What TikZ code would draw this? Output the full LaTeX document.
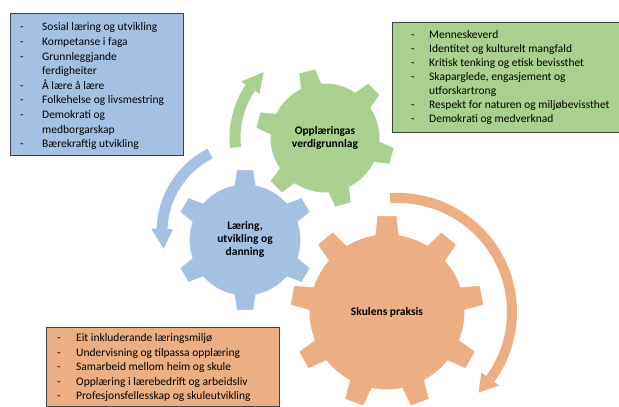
\documentclass[tikz,border=0pt]{standalone}
\usepackage{fontspec}
\setmainfont{Carlito}
\usepackage{array}
\definecolor{gblue}{RGB}{164,193,228}
\definecolor{ggreen}{RGB}{169,208,142}
\definecolor{gorange}{RGB}{236,175,131}
\definecolor{boxline}{RGB}{64,64,64}
\tikzset{
  listbox/.style={draw=boxline, line width=0.8pt},
  listtext/.style={inner sep=0pt, text=black},
  gearlabel/.style={inner sep=0pt, align=center, text=black,
    font=\bfseries\fontsize{11.5}{13}\selectfont},
}
\newcommand\drawgear[9]{%
  \pgfmathsetmacro\gdb{asin(#7/#5)}%
  \pgfmathsetmacro\gdt{asin(#8/#6)}%
  \pgfmathsetmacro\gstep{360/#3}%
  \fill[#9, draw=white, line width=1pt, shift={(#1,#2)}] ({#4-\gdb}:#5pt)
    \foreach \k in {1,...,#3}{
      -- ({#4+(\k-1)*\gstep-\gdb}:#5pt) -- ({#4+(\k-1)*\gstep-\gdt}:#6pt)
      -- ({#4+(\k-1)*\gstep+\gdt}:#6pt) -- ({#4+(\k-1)*\gstep+\gdb}:#5pt)
      arc[start angle={#4+(\k-1)*\gstep+\gdb}, end angle={#4+\k*\gstep-\gdb}, radius=#5pt]
    } -- cycle;}
\begin{document}
\begin{tikzpicture}[x=1pt,y=1pt]
\useasboundingbox (0,0) rectangle (619,407);
\clip (0,0) rectangle (619,407);

% gears
\drawgear{325}{269}{6}{45}{55}{70}{11}{8.5}{ggreen}
\drawgear{245}{167}{6}{90}{56}{71}{11}{8.5}{gblue}
\drawgear{387}{95}{9}{90}{78}{97}{12}{10}{gorange}

% circular arrows
\begin{scope}[shift={(325,269)}]
\fill[ggreen] (186:95.5pt) arc[start angle=186,end angle=146,radius=95.5pt]
  -- (146:101pt) -- (133:90pt) -- (146:79pt) -- (146:84.5pt)
  arc[start angle=146,end angle=186,radius=84.5pt] -- cycle;
\end{scope}
\begin{scope}[shift={(250,175)}]
\fill[gblue] (117:93.5pt) arc[start angle=117,end angle=178,radius=93.5pt]
  -- (178:99pt) -- (191:88pt) -- (178:77pt) -- (178:82.5pt)
  arc[start angle=178,end angle=117,radius=82.5pt] -- cycle;
\end{scope}
\begin{scope}[shift={(398,95)}]
\fill[gorange] (94:119pt) arc[start angle=94,end angle=-36,radius=119pt]
  -- (-36:125pt) -- (-45:114pt) -- (-36:103pt) -- (-36:109pt)
  arc[start angle=-36,end angle=94,radius=109pt] -- cycle;
\end{scope}

% gear labels
\node[gearlabel] (lgreen) at (325,269) {Opplæringas\\verdigrunnlag};
\node[gearlabel] (lblue) at (245,168) {Læring,\\utvikling og\\danning};
\node[gearlabel] (lorange) at (387,95) {Skulens praksis};

% list boxes
\draw[listbox, fill=gblue] (10,252) rectangle (183,394);
\node[listtext, anchor=north west, font=\fontsize{11.5}{14.6}\selectfont] (bluelist) at (20,386.5)
 {\begin{tabular}{@{}p{22pt}@{}l@{}}
 -&Sosial læring og utvikling\\
 -&Kompetanse i faga\\
 -&Grunnleggjande\\
  &ferdigheiter\\
 -&Å lære å lære\\
 -&Folkehelse og livsmestring\\
 -&Demokrati og\\
  &medborgarskap\\
 -&Bærekraftig utvikling
 \end{tabular}};

\draw[listbox, fill=ggreen] (392,275) rectangle (625,385);
\node[listtext, anchor=north west, font=\fontsize{11.5}{14}\selectfont] (greenlist) at (411,378.1)
 {\begin{tabular}{@{}p{18pt}@{}l@{}}
 -&Menneskeverd\\
 -&Identitet og kulturelt mangfald\\
 -&Kritisk tenking og etisk bevissthet\\
 -&Skaparglede, engasjement og\\
  &utforskartrong\\
 -&Respekt for naturen og miljøbevissthet\\
 -&Demokrati og medverknad
 \end{tabular}};

\draw[listbox, fill=gorange] (46,0.5) rectangle (279,80);
\node[listtext, anchor=north west, font=\fontsize{11.5}{14.5}\selectfont] (orangelist) at (57,75.5)
 {\begin{tabular}{@{}p{19pt}@{}l@{}}
 -&Eit inkluderande læringsmiljø\\
 -&Undervisning og tilpassa opplæring\\
 -&Samarbeid mellom heim og skule\\
 -&Opplæring i lærebedrift og arbeidsliv\\
 -&Profesjonsfellesskap og skuleutvikling
 \end{tabular}};
\end{tikzpicture}
\end{document}
